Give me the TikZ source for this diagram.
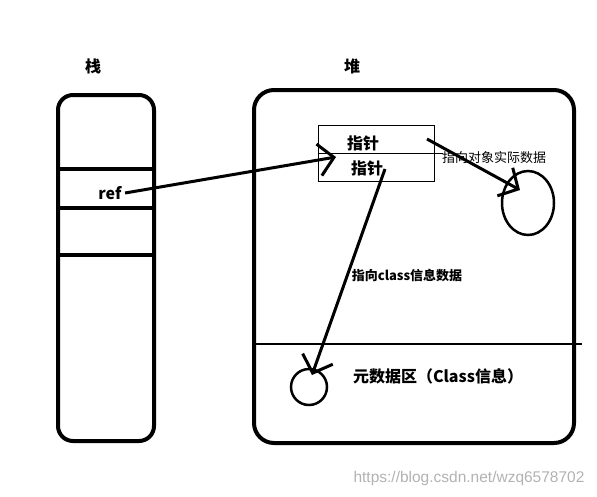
\documentclass[tikz,border=0pt]{standalone}
\usepackage{fontspec}
\setmainfont{Noto Sans CJK SC}
\newfontfamily\markfont{Liberation Sans}
\usetikzlibrary{arrows.meta,shapes.geometric}
\tikzstyle{frame}=[draw, line width=4pt
,inner sep=0pt
]
\tikzstyle{cell}=[draw, line width=0.8pt, minimum width=116pt, minimum height=28pt, inner sep=0pt]
\tikzstyle{pointer} = [draw, line width=3pt, -{Straight Barb[length=15pt,width=32pt]}]
\tikzstyle{title}=[font=\fontsize{16}{16}\selectfont\bfseries]
\tikzstyle{note}=[font=\fontsize{13}{13}\selectfont]

\begin{document}
\begin{tikzpicture}[x=1pt, y=-1pt]
    \useasboundingbox (0,0) rectangle (597,496);
    % stack and heap frames
    \node[frame, rounded corners=15pt, minimum width=96pt, minimum height=346pt] (stack) at (106,268) {};
    \node[frame, rounded corners=20pt, minimum width=320pt, minimum height=353pt] (heap) at (414,266.5) {};
    \node[title] (stacklbl) at (93,66) {栈};
    \node[title] (heaplbl) at (352,66) {堆};

    % stack slots
    \foreach \y in {169,208,255}
        \draw[line width=4pt] (stack.west |- 0,\y) -- (stack.east |- 0,\y);
    \node[title] (ref) at (110,193) {ref};

    % the two pointer cells
    \node[cell] (cellA) at (376,139) {};
    \node[cell] (cellB) at (376,167) {};
    \draw[line width=0.8pt] (cellA.south east) -- ++(9,0);
    \node[title] (ptrA) at (363,143) {指针};
    \node[title] (ptrB) at (367,168) {指针};

    % object data and class data
    \node[ellipse, draw, line width=2.5pt, minimum width=52pt, minimum height=64pt] (obj) at (528,203) {};
    \node[circle, draw, line width=2.5pt, minimum size=36pt] (cls) at (309,387) {};
    \draw[line width=2.5pt] (heap.west |- 0,344) -- (582,344);
    \node[title] (meta) at (438,376) {元数据区（Class信息）};
    \node[note] (objlbl) at (494,158) {指向对象实际数据};
    \node[note, font=\fontsize{13}{13}\selectfont\bfseries] (clslbl) at (407,276) {指向class信息数据};

    % connectors
    \coordinate (refend) at (336,157);
    \coordinate (objstart) at (427,139);
    \coordinate (objend) at (520,190);
    \coordinate (clsstart) at (385,169);
    \coordinate (clsend) at (312,375);
    \path[pointer] (ref.east) -- (refend);
    \path[pointer] (objstart) -- (objend);
    \path[pointer] (clsstart) -- (clsend);

    \node[font=\markfont\fontsize{15.5}{16}\selectfont, text=black!30] (mark) at (469,478) {https://blog.csdn.net/wzq6578702};
\end{tikzpicture}
\end{document}
